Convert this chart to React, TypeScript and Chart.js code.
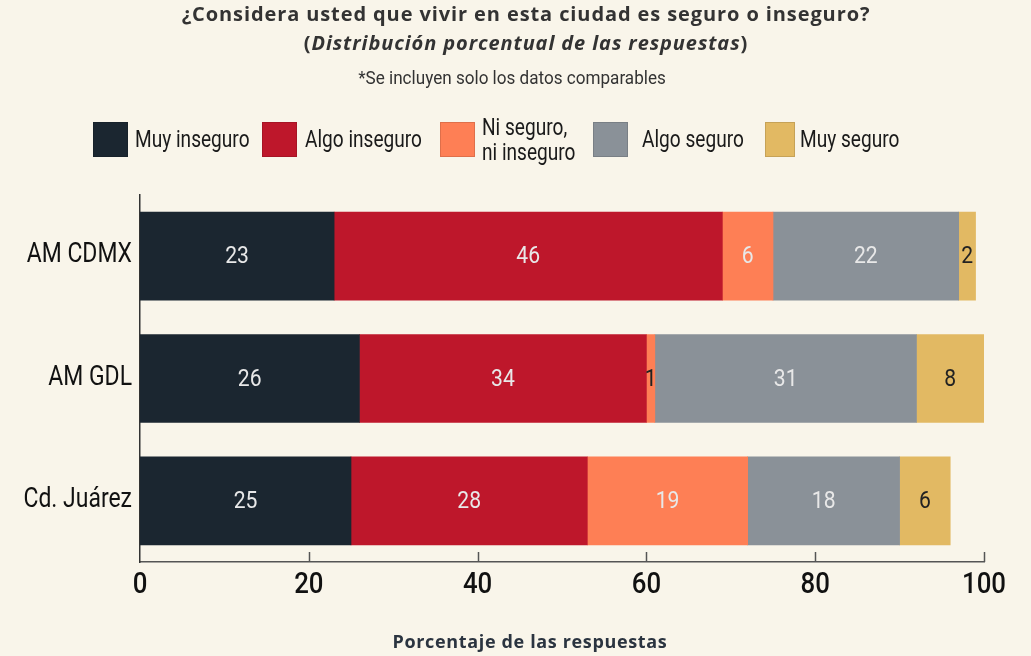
import React, { useEffect, useRef } from "react";
import { Chart, registerables } from "chart.js";

Chart.register(...registerables);

const categories = ["AM CDMX", "AM GDL", "Cd. Juárez"];
const muyInseguro = [23, 26, 25];
const algoInseguro = [46, 34, 28];
const niSeguro = [6, 1, 19];
const algoSeguro = [22, 31, 18];
const muySeguro = [2, 8, 6];
const seriesNames = ["Muy inseguro", "Algo inseguro", "Ni seguro, ni inseguro", "Algo seguro", "Muy seguro"];
const legendLabels = [["Muy inseguro"], ["Algo inseguro"], ["Ni seguro,", "ni inseguro"], ["Algo seguro"], ["Muy seguro"]];
const xTicks = [0, 20, 40, 60, 80, 100];

const colors = ["#1b2630", "#be172b", "#fe7f55", "#8a9198", "#e2b963"];
const labelColors = ["#e8e8e8", "#e8e8e8", "#e8e8e8", "#e8e8e8", "#222222"];
const BG = "#f9f5ea";
const COND = "Roboto, sans-serif";
const GEO = '"Open Sans", Lato, sans-serif';

function condText(ctx: any, text: string, x: number, y: number, align: string, sx: number) {
  ctx.save();
  ctx.translate(x, y);
  ctx.scale(sx, 1);
  ctx.textAlign = align;
  ctx.textBaseline = "alphabetic";
  ctx.fillText(text, 0, 0);
  ctx.restore();
}

const labelsPlugin = {
  id: "condLabels",
  afterDatasetsDraw(chart: any) {
    const ctx = chart.ctx;
    ctx.save();
    // value labels
    ctx.font = `24px ${COND}`;
    chart.data.datasets.forEach((ds: any, di: number) => {
      const meta = chart.getDatasetMeta(di);
      meta.data.forEach((el: any, i: number) => {
        const v = ds.data[i];
        const cx = (el.x + el.base) / 2;
        ctx.fillStyle = v <= 1 ? "#222222" : labelColors[di];
        condText(ctx, String(v), cx, el.y + 7, "center", 0.88);
      });
    });
    // y category labels
    const ys = chart.scales.y;
    ctx.font = `27px ${COND}`;
    ctx.fillStyle = "#111111";
    categories.forEach((c, i) => {
      condText(ctx, c, ys.right - 8, ys.getPixelForValue(i) + 6, "right", 0.85);
    });
    // x tick labels
    const xs = chart.scales.x;
    ctx.font = `500 30px ${COND}`;
    xTicks.forEach((t) => {
      condText(ctx, String(t), xs.getPixelForValue(t), chart.chartArea.bottom + 31, "center", 0.86);
    });
    ctx.restore();
  },
  afterDraw(chart: any) {
    const ctx = chart.ctx;
    const xs = chart.scales.x;
    const b = chart.chartArea.bottom;
    ctx.save();
    ctx.strokeStyle = "#555555";
    ctx.lineWidth = 1.5;
    xTicks.forEach((t) => {
      if (t === 0) return;
      const px = Math.round(xs.getPixelForValue(t)) + 0.5;
      ctx.beginPath();
      ctx.moveTo(px, b - 10);
      ctx.lineTo(px, b);
      ctx.stroke();
    });
    ctx.restore();
  },
};

function ChartCanvas() {
  const ref = useRef<HTMLCanvasElement>(null);
  useEffect(() => {
    if (!ref.current) return;
    const series = [muyInseguro, algoInseguro, niSeguro, algoSeguro, muySeguro];
    const chart = new Chart(ref.current, {
      type: "bar",
      data: {
        labels: categories,
        datasets: series.map((d, i) => ({
          label: seriesNames[i],
          data: d,
          backgroundColor: colors[i],
          borderWidth: 0,
          barThickness: 88,
        })),
      },
      options: {
        indexAxis: "y",
        animation: false,
        responsive: false,
        layout: { padding: { top: 195, right: 47, bottom: 0, left: 0 } },
        plugins: {
          legend: { display: false },
          tooltip: { enabled: false },
          title: { display: false },
        },
        scales: {
          x: {
            stacked: true,
            min: 0,
            max: 100,
            afterFit: (s: any) => {
              s.height = 94;
            },
            grid: { display: false, drawTicks: false },
            border: { display: true, color: "#555555", width: 1.5 },
            ticks: { display: false, stepSize: 20 },
          },
          y: {
            stacked: true,
            afterFit: (s: any) => {
              s.width = 140;
            },
            grid: { display: false, drawTicks: false },
            border: { display: true, color: "#333333", width: 1.5 },
            ticks: { display: false },
          },
        },
      },
      plugins: [labelsPlugin],
    } as any);
    return () => chart.destroy();
  }, []);
  return <canvas ref={ref} width={1031} height={656} style={{ position: "absolute", left: 0, top: 0 }} />;
}

const legendPos = [
  { box: 93, w: 35, text: 135 },
  { box: 262, w: 35, text: 305 },
  { box: 440, w: 35, text: 482 },
  { box: 593, w: 35, text: 642 },
  { box: 765, w: 30, text: 800 },
];

export default function App() {
  return (
    <div
      style={{
        position: "fixed",
        left: 0,
        top: 0,
        width: 1031,
        height: 656,
        background: BG,
        overflow: "hidden",
      }}
    >
      <ChartCanvas />
      <div
        style={{
          position: "absolute",
          left: 526,
          top: -1,
          transform: "translateX(-50%)",
          textAlign: "center",
          fontFamily: GEO,
          fontWeight: 700,
          fontSize: 20,
          letterSpacing: 0.9,
          color: "#333333",
          lineHeight: "29px",
          whiteSpace: "nowrap",
        }}
      >
        <div>¿Considera usted que vivir en esta ciudad es seguro o inseguro?</div>
        <div>
          (<i>Distribución porcentual de las respuestas</i>)
        </div>
      </div>
      <div
        style={{
          position: "absolute",
          left: 512,
          top: 68,
          transform: "translateX(-50%) scaleX(0.9)",
          fontFamily: COND,
          fontSize: 19,
          lineHeight: "19px",
          color: "#333333",
          whiteSpace: "nowrap",
        }}
      >
        *Se incluyen solo los datos comparables
      </div>
      {legendLabels.map((lab, i) => (
        <React.Fragment key={i}>
          <div
            style={{
              position: "absolute",
              left: legendPos[i].box,
              top: 122,
              width: legendPos[i].w,
              height: 35,
              background: colors[i],
              boxSizing: "border-box",
              border: "1px solid rgba(0,0,0,0.12)",
            }}
          />
          <div
            style={{
              position: "absolute",
              left: legendPos[i].text,
              top: lab.length > 1 ? 114.6 : 126.6,
              transform: "scaleX(0.83)",
              transformOrigin: "left center",
              fontFamily: COND,
              fontSize: 23,
              lineHeight: "25px",
              color: "#1a1a1a",
              whiteSpace: "nowrap",
            }}
          >
            {lab.map((l, j) => (
              <div key={j}>{l}</div>
            ))}
          </div>
        </React.Fragment>
      ))}
      <div
        style={{
          position: "absolute",
          left: 530,
          top: 632,
          transform: "translateX(-50%)",
          fontFamily: GEO,
          fontWeight: 700,
          fontSize: 18,
          lineHeight: "18px",
          letterSpacing: 0.65,
          color: "#2b3440",
          whiteSpace: "nowrap",
        }}
      >
        Porcentaje de las respuestas
      </div>
    </div>
  );
}
